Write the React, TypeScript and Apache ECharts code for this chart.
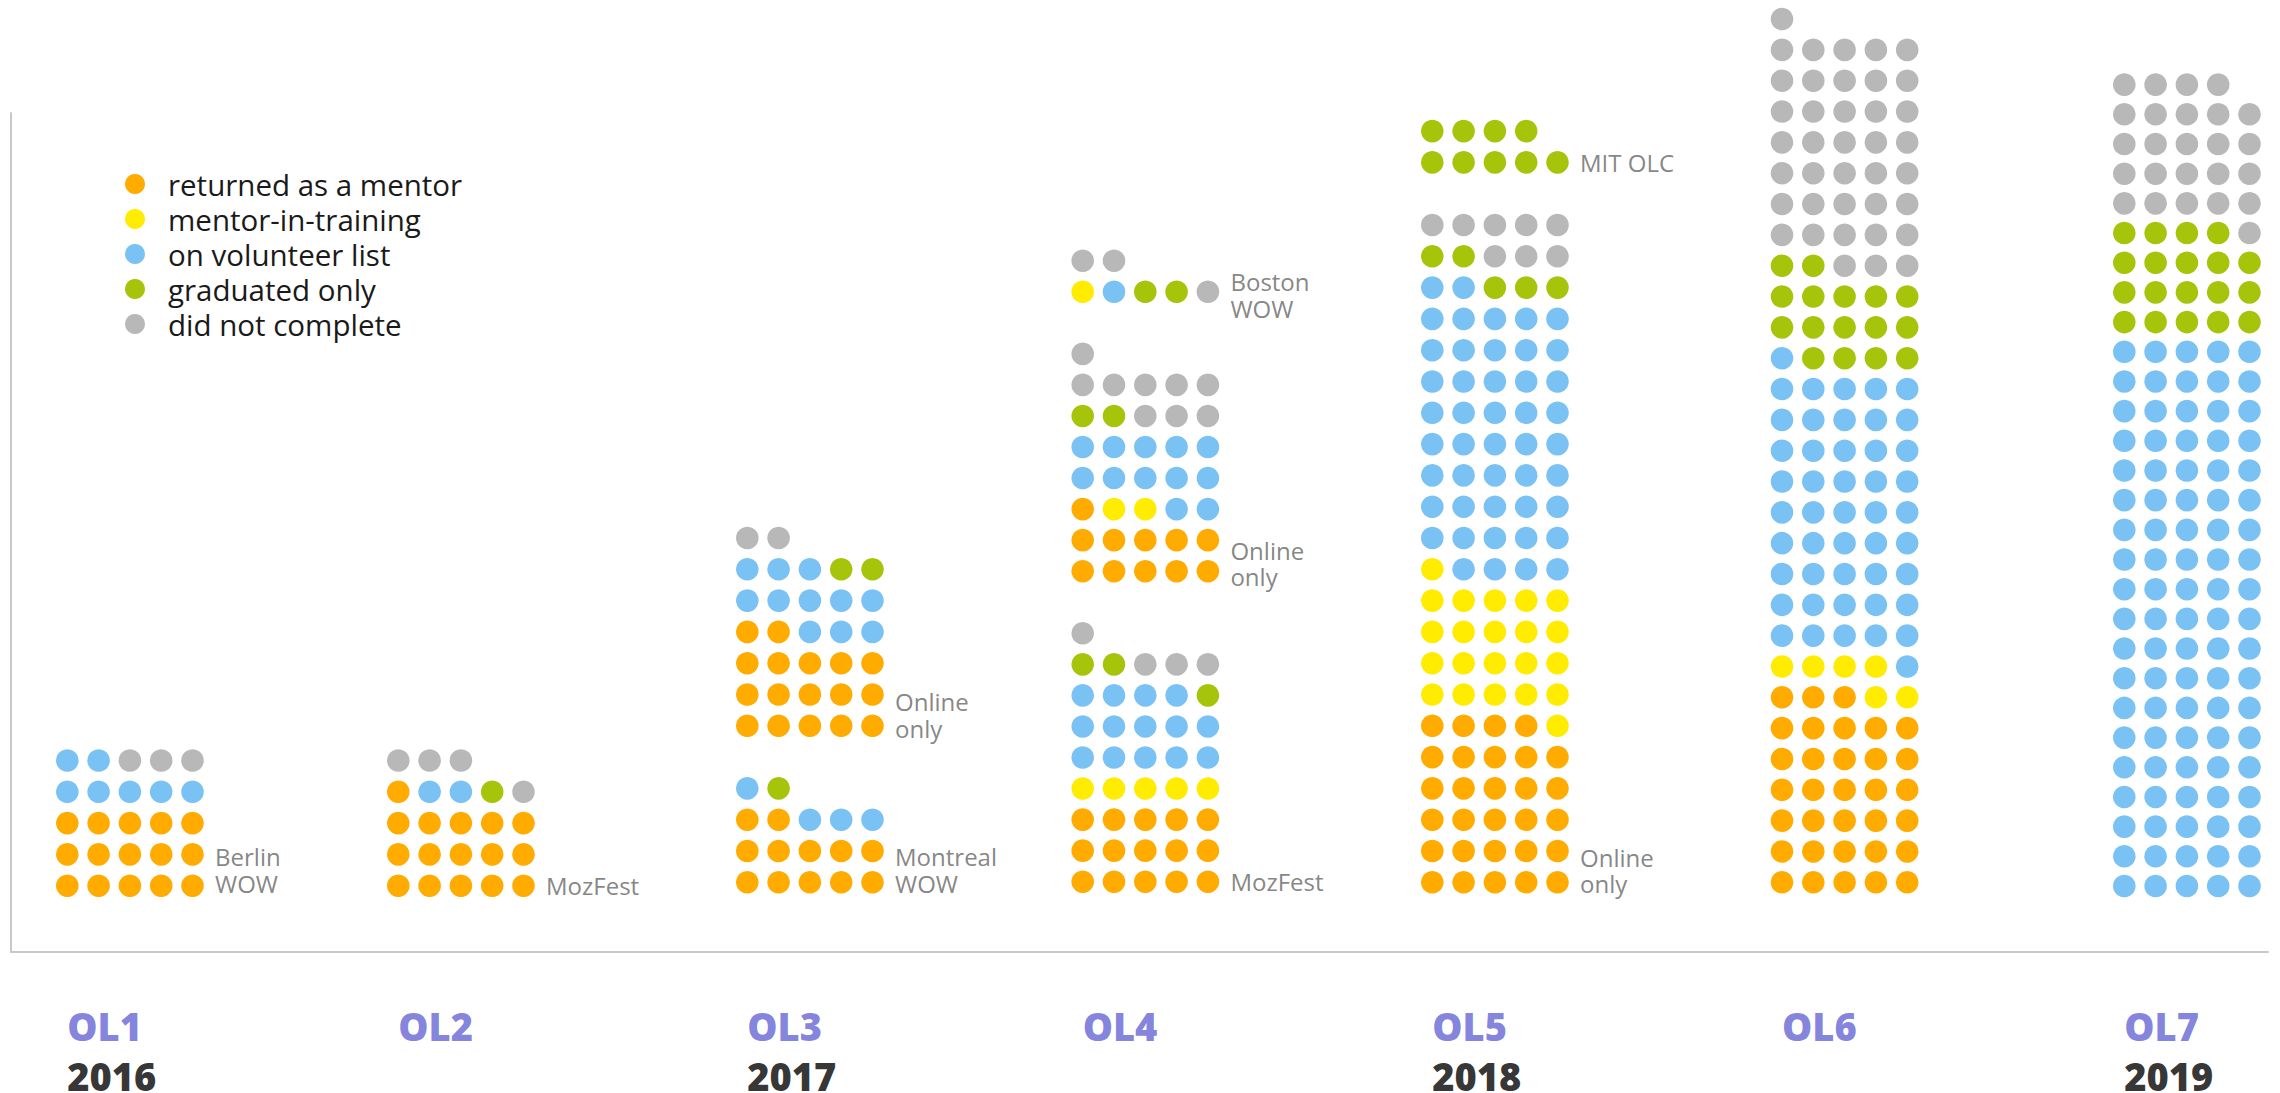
import React, { useEffect, useRef } from "react";
import * as echarts from "echarts";

// ---------------- DATA ----------------
const statuses = [
  "returned as a mentor",
  "mentor-in-training",
  "on volunteer list",
  "graduated only",
  "did not complete",
];
const cohortNames = ["OL1", "OL2", "OL3", "OL4", "OL5", "OL6", "OL7"];
const cohortYears = ["2016", "", "2017", "", "2018", "", "2019"];

// events, stacked bottom to top inside each cohort
const eventCohort = [0, 1, 2, 2, 3, 3, 3, 4, 4, 5, 6];
const eventLabels = [
  "Berlin\nWOW",
  "MozFest",
  "Montreal\nWOW",
  "Online\nonly",
  "MozFest",
  "Online\nonly",
  "Boston\nWOW",
  "Online\nonly",
  "MIT OLC",
  "",
  "",
];
// participant counts per event
const returnedAsMentor = [15, 16, 12, 17, 15, 11, 0, 29, 0, 33, 0];
const mentorInTraining = [0, 0, 0, 0, 5, 2, 1, 22, 0, 6, 0];
const onVolunteerList = [7, 2, 4, 11, 14, 12, 1, 46, 0, 47, 95];
const graduatedOnly = [0, 1, 1, 2, 3, 2, 2, 5, 9, 16, 19];
const didNotComplete = [3, 4, 0, 2, 4, 9, 3, 8, 0, 39, 25];

// ---------------- LAYOUT / STYLE ----------------
const W = 2280;
const H = 1093;
const UNIT = 31.3; // px per dot step
const PER_ROW = 5;
const GRID = { left: 11, right: 2268, top: 113, bottom: 952 };
const cohortLeftPx = [67.3, 398.3, 747.3, 1082.7, 1432.3, 1782, 2124.3];
const cohortBottomPx = [885.7, 885.7, 882.3, 881.7, 882.3, 882.3, 886];
const cohortRowPx = [31.3, 31.3, 31.3, 31.05, 31.3, 30.83, 29.68];
const labelNudge = [0.5, 0, 0.4, 0.35, 0, 0.25, -0.1, 0.37, 0, 0, 0];
const cohortLabelPx = 1026;
const yearLabelPx = 1076;
const statusColors = ["#ffab00", "#ffec00", "#7ac2f4", "#a6c50a", "#b8b8b8"];
const FONT = "'Open Sans', 'Noto Sans', sans-serif";

function buildOption() {
  const xOf = (c: number, col: number) => (cohortLeftPx[c] - GRID.left) / UNIT + col;
  const yOf = (c: number, row: number) =>
    (GRID.bottom - cohortBottomPx[c] + row * cohortRowPx[c]) / UNIT;
  const yPx = (px: number) => (GRID.bottom - px) / UNIT;

  const statusCounts = [returnedAsMentor, mentorInTraining, onVolunteerList, graduatedOnly, didNotComplete];
  const dots: number[][][] = statuses.map(() => []);
  const labelPts: any[] = [];
  const nextRow = cohortNames.map(() => 0);

  eventCohort.forEach((c, e) => {
    const start = nextRow[c];
    let idx = 0;
    statusCounts.forEach((arr, s) => {
      for (let k = 0; k < arr[e]; k++) {
        const col = idx % PER_ROW;
        const row = start + Math.floor(idx / PER_ROW);
        dots[s].push([xOf(c, col), yOf(c, row)]);
        idx++;
      }
    });
    if (eventLabels[e]) {
      labelPts.push({ name: eventLabels[e], value: [xOf(c, 4.72), yOf(c, start + labelNudge[e])] });
    }
    nextRow[c] = start + Math.ceil(idx / PER_ROW) + 1;
  });

  const cohortPts = cohortNames.map((n, c) => ({ name: n, value: [xOf(c, 0), yPx(cohortLabelPx)] }));
  const yearPts = cohortYears
    .map((y, c) => ({ name: y, value: [xOf(c, 0), yPx(yearLabelPx)] }))
    .filter((d) => d.name);

  const textSeries = (data: any[], label: any) => ({
    type: "scatter",
    data,
    symbolSize: 0,
    clip: false,
    silent: true,
    z: 5,
    label: {
      show: true,
      position: "right",
      distance: 0,
      formatter: "{b}",
      fontFamily: FONT,
      ...label,
    },
    emphasis: { disabled: true },
  });

  return {
    animation: false,
    backgroundColor: "#ffffff",
    grid: {
      left: GRID.left,
      top: GRID.top,
      width: GRID.right - GRID.left,
      height: GRID.bottom - GRID.top,
      containLabel: false,
      outerBoundsMode: "none",
    },
    xAxis: {
      type: "value",
      min: 0,
      max: (GRID.right - GRID.left) / UNIT,
      axisLine: { show: true, onZero: false, lineStyle: { color: "#c8c8c8", width: 2 } },
      axisTick: { show: false },
      axisLabel: { show: false },
      splitLine: { show: false },
    },
    yAxis: {
      type: "value",
      min: 0,
      max: (GRID.bottom - GRID.top) / UNIT,
      axisLine: { show: true, onZero: false, lineStyle: { color: "#c8c8c8", width: 2 } },
      axisTick: { show: false },
      axisLabel: { show: false },
      splitLine: { show: false },
    },
    legend: {
      orient: "vertical",
      left: 120,
      top: 164,
      itemWidth: 56,
      itemHeight: 20,
      itemGap: 5,
      icon: "circle",
      selectedMode: false,
      data: statuses,
      textStyle: { fontSize: 29.5, lineHeight: 30, fontFamily: FONT, color: "#1a1a1a" },
    },
    series: [
      ...statuses.map((name, s) => ({
        type: "scatter",
        name,
        data: dots[s],
        symbol: "circle",
        symbolSize: 22.6,
        itemStyle: { color: statusColors[s], opacity: 1 },
        clip: false,
        silent: true,
        emphasis: { disabled: true },
      })),
      textSeries(labelPts, { color: "#666666", fontSize: 24, lineHeight: 26.5 }),
      textSeries(cohortPts, { color: "#6464d4", fontSize: 38, fontWeight: 800 }),
      textSeries(yearPts, { color: "#000000", fontSize: 38, fontWeight: 800 }),
    ],
  };
}

export default function App() {
  const ref = useRef<HTMLDivElement>(null);
  useEffect(() => {
    document.body.style.margin = "0";
    if (!ref.current) return;
    const chart = echarts.init(ref.current, undefined, { renderer: "svg" });
    chart.setOption(buildOption() as any);
    return () => chart.dispose();
  }, []);
  return (
    <div
      ref={ref}
      style={{ position: "absolute", left: 0, top: 0, width: W, height: H, background: "#fff" }}
    />
  );
}
